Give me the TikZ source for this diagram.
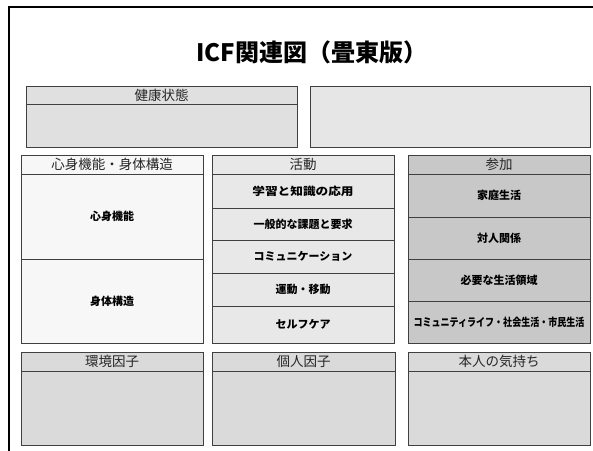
\documentclass[tikz,border=0pt]{standalone}
\usepackage{graphicx}
\usepackage{fontspec}
\setmainfont{Noto Sans CJK JP}
\newfontfamily\jp{Noto Sans CJK JP}
\definecolor{edge}{HTML}{404040}
\definecolor{fhealth}{HTML}{E0E0E0}
\definecolor{fother}{HTML}{E6E6E6}
\definecolor{fbody}{HTML}{F7F7F7}
\definecolor{fact}{HTML}{E8E8E8}
\definecolor{fpart}{HTML}{C8C8C8}
\definecolor{fbottom}{HTML}{DADADA}
\tikzset{
  cell/.style={draw=edge, line width=0.9pt, rectangle, inner sep=0pt, outer sep=0pt, anchor=north west, align=center},
  headtxt/.style={font=\jp\fontsize{13.5}{14}\selectfont, text=black!85},
  itemtxt/.style={font=\jp\bfseries\fontsize{11}{12}\selectfont, text=black},
  plain/.style={},
  frameline/.style={line width=1.8pt, black}
}
\newcommand{\cellbox}[8]{% name, fill, x, y, w, h, textstyle, text
  \node[cell, #7, fill=#2, minimum width=#5pt, minimum height=#6pt] (#1) at (#3,#4) {#8};}
\begin{document}
\begin{tikzpicture}[x=1pt,y=-1pt]
\useasboundingbox (0,0) rectangle (593,450);
% outer frame (partly cropped)
\coordinate (fbl) at (9,451);
\coordinate (ftl) at (9,7);
\coordinate (ftr) at (594,7);
\draw[frameline] (fbl) -- (ftl) -- (ftr);
% title
\node[font=\jp\bfseries\fontsize{24}{26}\selectfont] (title) at (312,52) {ICF関連図（畳東版）};
% health state
\cellbox{hbody}{fhealth}{26}{104}{271}{43}{plain}{}
\cellbox{hhead}{fhealth}{26}{86}{271}{18}{headtxt}{健康状態}
\cellbox{other}{fother}{310}{86}{280}{61}{plain}{}
% body functions / structures
\cellbox{lhead}{fbody}{21}{155}{182}{19}{headtxt}{心身機能・身体構造}
\cellbox{l1}{fbody}{21}{174}{182}{85}{itemtxt}{心身機能}
\cellbox{l2}{fbody}{21}{259}{182}{84}{itemtxt}{身体構造}
% activities
\cellbox{mhead}{fact}{212}{155}{182}{19}{headtxt}{活動}
\cellbox{m1}{fact}{212}{174}{182}{34}{itemtxt}{\scalebox{1.15}[1]{学習と知識の応用}}
\cellbox{m2}{fact}{212}{208}{182}{32}{itemtxt}{一般的な課題と要求}
\cellbox{m3}{fact}{212}{240}{182}{33}{itemtxt}{コミュニケーション}
\cellbox{m4}{fact}{212}{273}{182}{33}{itemtxt}{運動・移動}
\cellbox{m5}{fact}{212}{306}{182}{37}{itemtxt}{セルフケア}
% participation
\cellbox{rhead}{fpart}{408}{155}{182}{19}{headtxt}{参加}
\cellbox{r1}{fpart}{408}{174}{182}{43}{itemtxt}{家庭生活}
\cellbox{r2}{fpart}{408}{217}{182}{42}{itemtxt}{対人関係}
\cellbox{r3}{fpart}{408}{259}{182}{42}{itemtxt}{必要な生活領域}
\cellbox{r4}{fpart}{408}{301}{182}{42}{itemtxt}{\scalebox{0.82}[1]{コミュニティライフ・社会生活・市民生活}}
% bottom factors
\cellbox{e1}{fbottom}{21}{371}{182}{74}{plain}{}
\cellbox{ehead}{fbottom}{21}{352}{182}{19}{headtxt}{環境因子}
\cellbox{p1}{fbottom}{212}{371}{183}{74}{plain}{}
\cellbox{phead}{fbottom}{212}{352}{183}{19}{headtxt}{個人因子}
\cellbox{f1}{fbottom}{408}{371}{182}{74}{plain}{}
\cellbox{fhead}{fbottom}{408}{352}{182}{19}{headtxt}{本人の気持ち}
\end{tikzpicture}
\end{document}
